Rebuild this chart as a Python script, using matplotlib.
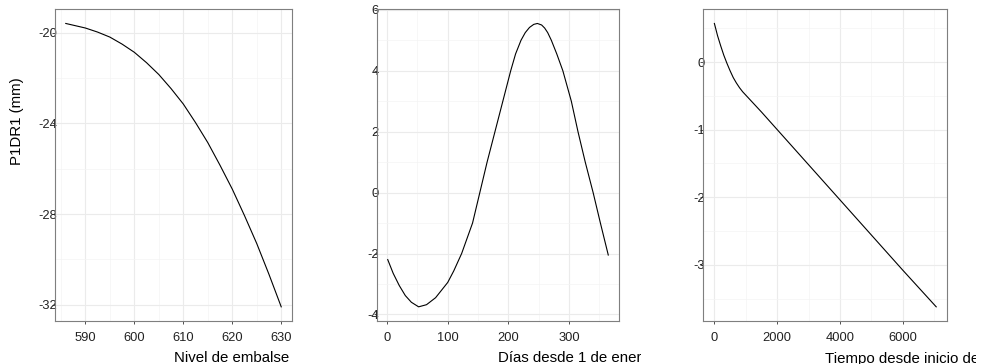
import matplotlib
matplotlib.use("Agg")
import matplotlib.pyplot as plt
import matplotlib.transforms as mtransforms
from matplotlib.ticker import MultipleLocator

# Panel 1: reservoir level effect
nivel = [586, 590, 592.5, 595, 597.5, 600, 602.5, 605, 607.5, 610, 612.5, 615,
         617.5, 620, 622.5, 625, 627.5, 630]
efecto_nivel = [-19.60, -19.80, -19.98, -20.20, -20.51, -20.87, -21.33, -21.85,
                -22.47, -23.15, -23.97, -24.85, -25.85, -26.90, -28.07, -29.30,
                -30.66, -32.09]

# Panel 2: seasonal effect
dias = [1, 10, 20, 30, 40, 52, 65, 80, 100, 110, 123, 141, 153, 165, 178, 191,
        204, 212, 221, 228, 235, 242, 248, 255, 260, 265, 271, 280, 290, 304,
        315, 327, 340, 352, 365]
efecto_dias = [-2.2, -2.65, -3.05, -3.38, -3.60, -3.75, -3.68, -3.45, -2.95,
               -2.57, -2.0, -1.0, 0.0, 1.0, 2.0, 3.0, 4.0, 4.55, 5.0, 5.25,
               5.42, 5.52, 5.55, 5.50, 5.40, 5.25, 5.0, 4.55, 4.0, 3.0, 2.0,
               1.0, 0.0, -1.0, -2.05]

# Panel 3: time trend
tiempo = [0, 100, 200, 300, 400, 500, 600, 700, 800, 900, 1000, 1200, 1500,
          2000, 3000, 4000, 5000, 6000, 7060]
efecto_tiempo = [0.57, 0.39, 0.24, 0.10, -0.02, -0.13, -0.23, -0.31, -0.38,
                 -0.44, -0.49, -0.59, -0.74, -1.00, -1.52, -2.04, -2.56, -3.08,
                 -3.62]

plt.rcParams["font.family"] = ["Liberation Sans", "DejaVu Sans"]
plt.rcParams["axes.unicode_minus"] = False

W, H = 982, 364
fig = plt.figure(figsize=(W / 100, H / 100), dpi=100)

# axes boxes in pixels (left, right), shared top/bottom
boxes = [(55, 292), (376.7, 619.3), (703.3, 947.3)]
top_px, bot_px = 9.3, 321

panels = [
    (nivel, efecto_nivel, "Nivel de embalse", 10, 5, 4, 2, None),
    (dias, efecto_dias, "Días desde 1 de enero", 100, 50, 2, 1, 641),
    (tiempo, efecto_tiempo, "Tiempo desde inicio de operación", 2000, 1000, 1, 0.5, 976),
]

for (l, r), (x, y, xlab, xmaj, xmin, ymaj, ymin, clip_x) in zip(boxes, panels):
    ax = fig.add_axes([l / W, 1 - bot_px / H, (r - l) / W, (bot_px - top_px) / H])
    ax.plot(x, y, color="black", lw=0.8)
    ax.xaxis.set_major_locator(MultipleLocator(xmaj))
    ax.xaxis.set_minor_locator(MultipleLocator(xmin))
    ax.yaxis.set_major_locator(MultipleLocator(ymaj))
    ax.yaxis.set_minor_locator(MultipleLocator(ymin))
    ax.grid(which="major", color="#ebebeb", lw=0.8)
    ax.grid(which="minor", color="#f4f4f4", lw=0.5)
    ax.set_axisbelow(True)
    for s in ax.spines.values():
        s.set_color("#7f7f7f")
        s.set_linewidth(0.8)
    ax.tick_params(which="major", length=2.2, width=0.6, color="#333333",
                   labelsize=9.3, labelcolor="#222222")
    ax.tick_params(which="minor", length=0)
    ax.tick_params(axis="y", pad=-3.6)
    ax.tick_params(axis="x", pad=5.5)

    # x title: left aligned at axes centre, clipped by the panel area
    trans = mtransforms.blended_transform_factory(ax.transAxes, fig.transFigure)
    t = ax.text(0.5, 1 - 362.5 / H, xlab, transform=trans, ha="left",
                va="baseline", fontsize=10.8, color="black")
    if clip_x is not None:
        t.set_clip_box(mtransforms.Bbox.from_extents(0, 0, clip_x, H))
        t.set_clip_on(True)
    else:
        t.set_clip_on(False)

    if l == boxes[0][0]:
        trans_y = mtransforms.blended_transform_factory(fig.transFigure, ax.transAxes)
        ax.text(16.7 / W, 0.5, "P1DR1 (mm)", transform=trans_y, rotation=90,
                ha="center", va="bottom", fontsize=10.8, color="black", clip_on=False)

fig.savefig("out.png", dpi=100)
